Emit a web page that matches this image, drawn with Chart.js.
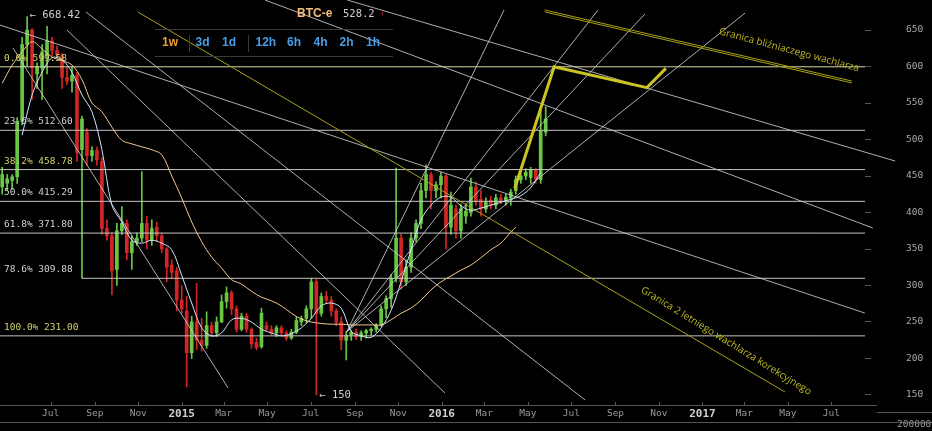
<!DOCTYPE html>
<html>
<head>
<meta charset="utf-8">
<script src="https://cdn.jsdelivr.net/npm/chart.js@4.4.1/dist/chart.umd.min.js"></script>
<style>
html, body { margin: 0; padding: 0; background: #000; }
</style>
</head>
<body>
<canvas id="btcChart" width="932" height="431"></canvas>
<script>
// weekly candles, first one is the week of 21 Apr 2014
var firstWeek = '2014-04-21';
// [open, high, low, close]
var candles = [
  [435,462,425,452],[440,452,430,446],[444,452,432,449],[449,530,440,525],[525,640,520,630],
  [630,668.42,600,650],[650,652,555,598],[590,605,570,600],[598,630,555,620],[615,655,590,635],
  [635,640,615,622],[622,628,612,616],[615,618,570,585],[585,600,575,580],[580,600,565,588],
  [588,592,470,482],[486,532,310,528],[510,515,465,478],[478,490,470,485],[485,490,465,472],
  [470,475,370,378],[378,390,362,368],[368,372,287,320],[322,385,300,375],[375,408,370,385],
  [385,390,335,345],[345,368,322,360],[360,372,355,365],[365,456,360,385],[385,395,350,362],
  [362,390,355,378],[380,387,360,368],[368,372,345,350],[350,352,305,325],[328,335,310,318],
  [320,325,265,280],[280,300,262,268],[265,285,161,208],[208,258,200,250],[250,303,212,225],
  [225,255,210,218],[218,264,214,245],[245,250,230,235],[235,257,230,250],[250,287,249,278],
  [278,298,269,290],[290,293,260,268],[268,272,236,240],[240,262,238,258],[258,262,236,240],
  [240,242,214,220],[222,228,212,215],[216,269,214,262],[245,250,238,240],[240,245,232,235],
  [235,245,230,242],[242,245,232,235],[235,238,225,228],[228,240,226,236],[236,257,234,252],
  [250,258,245,255],[255,272,249,268],[268,310,255,305],[305,309,150,262],[262,290,258,285],
  [285,292,275,280],[280,285,258,265],[265,268,245,250],[250,257,212,225],[225,237,198,232],
  [232,238,225,236],[236,240,226,230],[230,238,225,235],[235,240,228,238],[238,242,232,240],
  [240,248,236,246],[246,272,244,268],[268,286,256,282],[282,315,270,310],[310,461,305,365],
  [365,370,295,305],[305,335,300,325],[325,372,318,365],[365,390,360,385],[385,440,378,430],
  [430,465,420,452],[452,455,405,430],[430,442,420,438],[438,455,420,450],[450,452,350,380],
  [380,428,370,410],[405,410,365,375],[375,412,365,405],[395,412,385,402],[400,447,395,435],
  [435,442,410,415],[418,430,395,405],[405,420,400,415],[417,422,405,410],[410,425,405,420],
  [420,425,412,416],[416,425,410,421],[420,432,410,428],[430,450,425,445],[445,455,440,450],
  [450,460,445,455],[448,462,440,458],[458,460,440,445],[445,545,440,512],[510,545,505,528.2]
];
var lastPrice = 528.2;

// moving averages: [week, value]
var maFast = [[4,506],[6,561],[8,592],[10,612],[12,609],[14,592],[16,561],[18,538],[20,486],[22,410],
  [24,387],[26,362],[28,358],[30,362],[32,358],[34,349],[36,314],[38,276],[40,242],[42,231],[44,235],
  [46,253],[48,255],[50,250],[52,240],[54,235],[56,231],[58,234],[60,242],[62,255],[64,272],[66,276],
  [68,269],[70,237],[72,231],[74,229],[76,242],[78,266],[80,305],[82,349],[84,390],[86,410],[88,421],
  [90,421],[92,409],[94,403],[96,406],[98,410],[100,414],[102,418],[104,423],[106,434],[108,455]];
var maSlow = [[0,577],[2,602],[4,620],[6,634],[8,624],[10,613],[12,608],[14,602],[16,582],[18,550],
  [20,538],[22,517],[24,499],[26,494],[28,490],[30,486],[32,479],[34,450],[36,420],[38,387],[40,360],
  [42,339],[44,324],[46,308],[48,302],[50,292],[52,284],[54,279],[56,272],[58,262],[60,254],[62,250],
  [64,248],[66,247],[68,247],[70,246],[72,246],[74,246],[76,246],[78,253],[80,262],[82,269],[84,280],
  [86,294],[88,305],[90,313],[92,321],[94,328],[96,338],[98,349],[100,358],[102,373],[103,380]];

// fibonacci retracement
var fibNames = ['0.0%', '23.6%', '38.2%', '50.0%', '61.8%', '78.6%', '100.0%'];
var fibLevels = [599.58, 512.60, 458.78, 415.29, 371.80, 309.88, 231.00];
var fibStart = [-0.5, -0.5, -0.5, -0.5, -0.5, 16.0, -0.5];

// drawn trend / fan lines, [week, price] pairs
var downLines = [
  [[-0.44, 656.8], [173.0, 262.3]],
  [[2.17, 625.3], [45.3, 159.6]],
  [[13.0, 650.0], [88.8, 152.7]],
  [[16.8, 674.7], [116.9, 143.2]],
  [[52.7, 691.1], [174.6, 378.8]],
  [[69.2, 691.1], [179.1, 470.5]]
];
var fanOrigin = [69.1, 236.7];
var fanEnds = [[100.65, 677.4], [119.5, 677.4], [128.9, 671.9], [149.0, 673.3]];
var twoYearLine = [[27.2, 674.7], [157.0, 154.1]];
var twinLine = [[108.8, 677.4], [170.4, 580.1]];
var projection = [[102.8, 433.2], [110.7, 599.7], [129.3, 571.0], [133.1, 597.5]];

var notes = [
  { text: 'Granica bliźniaczego wachlarza', at: [157.8, 622.6], angle: 15 },
  { text: 'Granica 2 letniego wachlarza korekcyjnego', at: [145.2, 224.0], angle: 31.5 }
];

var yTicks = [150, 200, 250, 300, 350, 400, 450, 500, 550, 600, 650];
var xTickDates = ['2014-07-01','2014-09-01','2014-11-01','2015-01-01','2015-03-01','2015-05-01',
  '2015-07-01','2015-09-01','2015-11-01','2016-01-01','2016-03-01','2016-05-01','2016-07-01',
  '2016-09-01','2016-11-01','2017-01-01','2017-03-01','2017-05-01','2017-07-01'];
var xTickLabels = ['Jul','Sep','Nov','2015','Mar','May','Jul','Sep','Nov','2016','Mar','May','Jul',
  'Sep','Nov','2017','Mar','May','Jul'];
var timeframes = ['1w', '3d', '1d', '12h', '6h', '4h', '2h', '1h'];

// date -> week number (candle centre is mid week)
function weekOf(s) {
  return (Date.parse(s) - Date.parse(firstWeek)) / 864e5 / 7 - 3 / 7;
}
function pts(arr) { return arr.map(function (p) { return { x: p[0], y: p[1] }; }); }

var GREEN = '#68c844', RED = '#d22626', LINE = 'rgba(205,205,205,0.85)', OLIVE = '#aaa21c';
var candleColors = candles.map(function (c) { return c[3] >= c[0] ? GREEN : RED; });

var datasets = [];
datasets.push({
  type: 'bar', data: candles.map(function (c, i) { return { x: i, y: [c[2], c[1]] }; }),
  backgroundColor: candleColors, barThickness: 1, grouped: false, order: 10
});
datasets.push({
  type: 'bar', data: candles.map(function (c, i) { return { x: i, y: [c[0], c[3]] }; }),
  backgroundColor: candleColors, barThickness: 3, minBarLength: 1, grouped: false, order: 9
});

function lineSet(data, color, width, order) {
  return { type: 'line', data: data, borderColor: color, borderWidth: width, pointRadius: 0,
    fill: false, tension: 0, clip: false, order: order };
}
fibLevels.forEach(function (v, i) {
  datasets.push(lineSet([{ x: fibStart[i], y: v }, { x: 173.04, y: v }],
    i === 0 ? '#d8d8a8' : '#c4c4c4', 1, 8));
});
downLines.forEach(function (l) { datasets.push(lineSet(pts(l), LINE, 1, 7)); });
fanEnds.forEach(function (e) { datasets.push(lineSet(pts([fanOrigin, e]), LINE, 1, 7)); });
datasets.push(lineSet(pts(twoYearLine), OLIVE, 1, 6));
datasets.push(lineSet(pts(twinLine), OLIVE, 1, 6));
datasets.push(lineSet(pts(twinLine).map(function (p) { return { x: p.x, y: p.y - 2.6 }; }), OLIVE, 1, 6));
var fastSet = lineSet(pts(maFast), '#cfe6ff', 1, 4); fastSet.tension = 0.35; fastSet.clip = true;
var slowSet = lineSet(pts(maSlow), '#f3c98f', 1, 4); slowSet.tension = 0.35; slowSet.clip = true;
datasets.push(fastSet, slowSet);
datasets.push(lineSet(pts(projection), '#c9c424', 3, 1));

var overlay = {
  id: 'overlay',
  beforeDraw: function (chart) {
    var c = chart.ctx;
    c.save(); c.fillStyle = '#000'; c.fillRect(0, 0, chart.width, chart.height); c.restore();
  },
  afterDraw: function (chart) {
    var c = chart.ctx, xs = chart.scales.x, ys = chart.scales.y, a = chart.chartArea;
    c.save();
    // axis lines and volume pane edge
    c.strokeStyle = '#555'; c.lineWidth = 1;
    c.beginPath(); c.moveTo(0, a.bottom + 0.5); c.lineTo(877, a.bottom + 0.5); c.stroke();
    c.beginPath(); c.moveTo(0, 422.5); c.lineTo(chart.width, 422.5); c.stroke();
    c.beginPath(); c.moveTo(877, 412.5); c.lineTo(chart.width, 412.5); c.stroke();
    xTickDates.forEach(function (d) {
      var x = Math.round(xs.getPixelForValue(weekOf(d))) + 0.5;
      c.beginPath(); c.moveTo(x, a.bottom - 3); c.lineTo(x, a.bottom); c.stroke();
    });
    c.textBaseline = 'middle';
    c.font = '9.5px "DejaVu Sans Mono"'; c.fillStyle = '#a8a8a8';
    yTicks.forEach(function (v) { c.fillText(String(v), 906, ys.getPixelForValue(v)); });
    c.fillStyle = '#999';
    c.fillText('200000', 897, 425);

    // fibonacci labels
    fibLevels.forEach(function (v, i) {
      c.fillStyle = (i === 0 || i === 2 || i === 6) ? '#d4d26a' : '#d0d0d0';
      c.fillText(fibNames[i] + ' ' + v.toFixed(2), 4, ys.getPixelForValue(v) - 8.5);
    });

    // extreme price notes
    var hi = 0, lo = 0;
    candles.forEach(function (k, i) { if (k[1] > candles[hi][1]) hi = i; if (k[2] < candles[lo][2]) lo = i; });
    c.font = '10.5px "DejaVu Sans Mono"'; c.fillStyle = '#d0d0d0';
    c.fillText('\u2190 ' + candles[hi][1].toFixed(2), xs.getPixelForValue(hi) + 2.5, ys.getPixelForValue(candles[hi][1]) - 1);
    c.fillText('\u2190 ' + candles[lo][2], xs.getPixelForValue(lo) + 3, ys.getPixelForValue(candles[lo][2]));

    // rotated captions
    c.font = '10px "Open Sans"'; c.fillStyle = '#c2ba26'; c.textAlign = 'center';
    notes.forEach(function (n) {
      c.save();
      c.translate(xs.getPixelForValue(n.at[0]), ys.getPixelForValue(n.at[1]));
      c.rotate(n.angle * Math.PI / 180);
      c.fillText(n.text, 0, 0);
      c.restore();
    });

    // header
    c.textAlign = 'left';
    c.font = 'bold 12px "Liberation Sans"'; c.fillStyle = '#f2bd7c';
    c.fillText('BTC-e', 297, 14);
    c.font = '10.5px "DejaVu Sans Mono"'; c.fillStyle = '#cfcfcf';
    c.fillText(lastPrice.toFixed(1), 343, 14.5);
    c.fillStyle = '#c03030'; c.fillRect(382, 12, 1, 3);
    c.strokeStyle = '#3a3a3a';
    c.beginPath(); c.moveTo(155, 29.5); c.lineTo(393, 29.5); c.stroke();
    c.beginPath(); c.moveTo(155, 56.5); c.lineTo(393, 56.5); c.stroke();
    c.beginPath(); c.moveTo(189.5, 35); c.lineTo(189.5, 52); c.stroke();
    c.beginPath(); c.moveTo(248.5, 35); c.lineTo(248.5, 52); c.stroke();
    var tfX = [162, 195.5, 222, 255.5, 287, 313.5, 339.5, 366];
    c.font = 'bold 12px "Liberation Sans"';
    timeframes.forEach(function (t, i) {
      c.fillStyle = i === 0 ? '#eea232' : '#4b9ee6';
      c.fillText(t, tfX[i], 43);
    });
    c.restore();
  }
};

var ctx = document.getElementById('btcChart').getContext('2d');
var chart = new Chart(ctx, {
  type: 'bar',
  data: { datasets: datasets },
  options: {
    responsive: false,
    animation: false,
    devicePixelRatio: 1,
    events: [],
    layout: { padding: 0 },
    plugins: { legend: { display: false }, tooltip: { enabled: false } },
    scales: {
      x: {
        type: 'linear', min: -0.44, max: 173.04, offset: false,
        grid: { display: false, drawTicks: false }, border: { display: false },
        afterBuildTicks: function (s) { s.ticks = xTickDates.map(function (d) { return { value: weekOf(d) }; }); },
        afterFit: function (s) { s.height = 26; },
        ticks: {
          autoSkip: false, maxRotation: 0, padding: 3,
          callback: function (v, i) { return xTickLabels[i]; },
          color: function (c) { return /^\d/.test(xTickLabels[c.index]) ? '#d0d0d0' : '#9a9a9a'; },
          font: function (c) {
            return /^\d/.test(xTickLabels[c.index])
              ? { family: 'DejaVu Sans Mono', size: 11, weight: 'bold' }
              : { family: 'DejaVu Sans Mono', size: 9.5 };
          }
        }
      },
      y: {
        position: 'right', min: 136.3, max: 691.1,
        grid: { drawOnChartArea: false, drawTicks: true, tickLength: 6, color: '#555' },
        border: { display: false },
        afterBuildTicks: function (s) { s.ticks = yTicks.map(function (v) { return { value: v }; }); },
        afterFit: function (s) { s.width = 67; },
        ticks: { display: false }
      }
    }
  },
  plugins: [overlay]
});
</script>
</body>
</html>
